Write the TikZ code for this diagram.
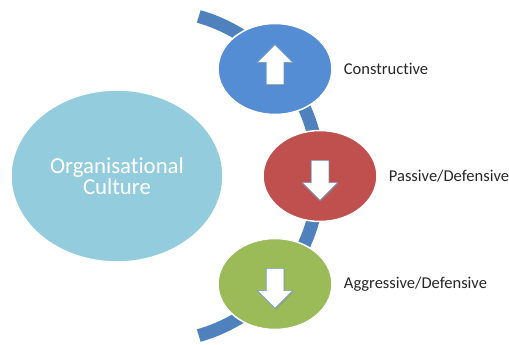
\documentclass[tikz,border=0pt]{standalone}
\usepackage{fontspec}
\setmainfont{Carlito}[Ligatures=NoCommon]
\usetikzlibrary{positioning,shapes.geometric,shapes.arrows,shadows}
\definecolor{bandblue}{RGB}{79,129,189}
\definecolor{topblue}{RGB}{84,141,212}
\definecolor{midred}{RGB}{192,80,77}
\definecolor{lowgreen}{RGB}{155,187,89}
\definecolor{paleblue}{RGB}{147,205,221}

\begin{document}
\begin{tikzpicture}[x=1pt,y=-1pt,node distance=11pt,
  blob/.style={ellipse,draw=white,line width=1.5pt,minimum width=114pt,minimum height=91pt,inner sep=0pt},
  arr/.style={single arrow,draw=bandblue!80,fill=white,line width=0.6pt,inner sep=8.5pt,
    minimum height=40pt,single arrow head extend=9pt,
    drop shadow={opacity=0.3,shadow xshift=1pt,shadow yshift=-1.5pt}},
  lbl/.style={font=\fontsize{16.5}{19}\selectfont,text=black!85,inner sep=0pt}]
  \useasboundingbox (0,0) rectangle (509,345);
  % band behind the three circles
  \coordinate (hub) at (153,176);
  \draw[bandblue,line width=13pt] (hub) ++(-74:166pt) arc[start angle=-74,end angle=74,radius=166pt];

  \node[blob,fill=paleblue,minimum width=212pt,minimum height=172pt,text=white,
        font=\fontsize{22.8}{21}\selectfont,align=center] (culture) at (117,176) {Organisational\\Culture};
  \node[blob,fill=topblue]  (cons) at (275,69)  {};
  \node[blob,fill=midred]   (pass) at (320,176) {};
  \node[blob,fill=lowgreen] (aggr) at (275,284) {};

  \node[arr,shape border rotate=90]  (consup)   at (cons) {};
  \node[arr,shape border rotate=270] (passdown) at (pass) {};
  \node[arr,shape border rotate=270] (aggrdown) at (aggr) {};

  \node[lbl,right=of cons] (conslbl) {Constructive};
  \node[lbl,right=of pass] (passlbl) {Passive/Defensive};
  \node[lbl,right=of aggr] (aggrlbl) {Aggressive/Defensive};
\end{tikzpicture}
\end{document}
